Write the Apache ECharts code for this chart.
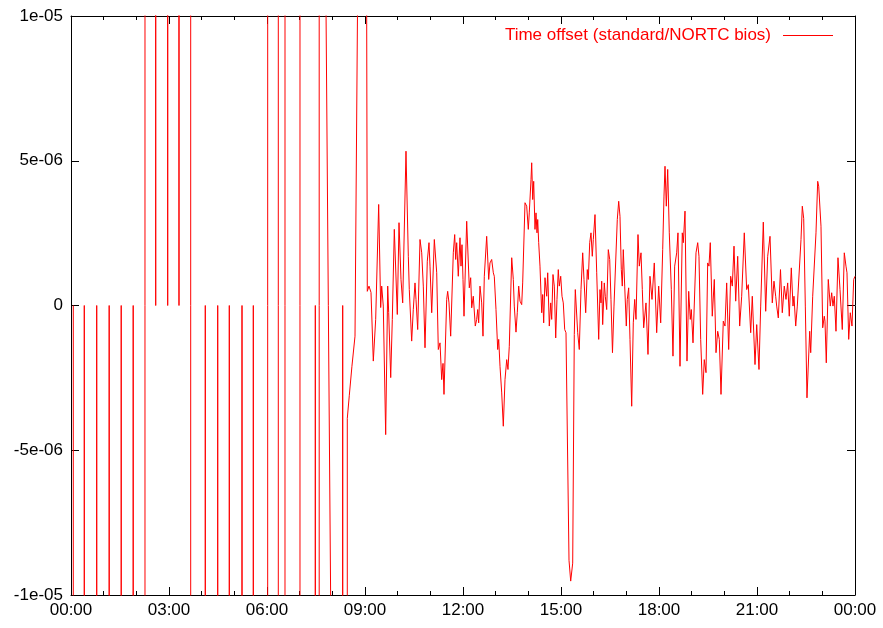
<!DOCTYPE html>
<html>
<head>
<meta charset="utf-8">
<title>Time offset</title>
<script src="https://cdn.jsdelivr.net/npm/echarts@6/dist/echarts.min.js"></script>
<style>
  html, body { margin: 0; padding: 0; background: #fff; }
  #chart { width: 883px; height: 628px; }
</style>
</head>
<body>
<div id="chart"></div>
<script>
// hours since 00:00, offsets in microseconds (+-1000 = far off the plotted range)
var earlyHours = [
  0.070, 0.080,
  0.397, 0.407, 0.417,
  0.777, 0.787, 0.797,
  1.159, 1.169, 1.179,
  1.527, 1.537, 1.547,
  1.894, 1.904, 1.914,
  2.260, 2.270,
  2.583, 2.593, 2.603,
  2.950, 2.960, 2.970,
  3.296, 3.306, 3.316,
  3.659, 3.669,
  4.101, 4.111, 4.121,
  4.481, 4.491, 4.501,
  4.836, 4.846, 4.856,
  5.225, 5.235, 5.245,
  5.571, 5.581, 5.591,
  6.016, 6.026,
  6.341, 6.351,
  6.546, 6.556,
  7.005, 7.015,
  7.469, 7.479, 7.489,
  7.593, 7.603,
  7.806, 7.950, 7.960,
  8.307, 8.317, 8.327,
  8.448, 8.458, 8.520, 8.600, 8.694, 8.786, 9.046
];
var earlyOffset = [
  0, -1000,
  -1000, 0, -1000,
  -1000, 0, -1000,
  -1000, 0, -1000,
  -1000, 0, -1000,
  -1000, 0, -1000,
  -1000, 1000,
  1000, 0, 1000,
  1000, 0, 1000,
  1000, 0, 1000,
  1000, -1000,
  -1000, 0, -1000,
  -1000, 0, -1000,
  -1000, 0, -1000,
  -1000, 0, -1000,
  -1000, 0, -1000,
  -1000, 1000,
  1000, -1000,
  -1000, 1000,
  1000, -1000,
  -1000, 0, -1000,
  -1000, 1000,
  10.3, -10.3, -1000,
  -1000, 0, -1000,
  -1000, -3.9, -3.1, -2.1, -1.06, 12.5, 13
];

var laterHours = [
  9.070, 9.122, 9.184, 9.254, 9.327, 9.419, 9.480, 9.511, 9.560, 9.633,
  9.695, 9.725, 9.787, 9.836, 9.897, 9.989, 10.041, 10.102, 10.154, 10.255,
  10.326, 10.356, 10.429, 10.478, 10.531, 10.561, 10.613, 10.684, 10.736, 10.785,
  10.837, 10.907, 10.959, 10.990, 11.042, 11.122, 11.195, 11.244, 11.296, 11.348,
  11.388, 11.418, 11.501, 11.531, 11.571, 11.623, 11.703, 11.746, 11.776, 11.807,
  11.856, 11.908, 11.939, 11.969, 12.000, 12.031, 12.113, 12.193, 12.235, 12.266,
  12.315, 12.376, 12.419, 12.450, 12.480, 12.520, 12.572, 12.612, 12.652, 12.725,
  12.787, 12.826, 12.878, 12.928, 12.958, 13.010, 13.062, 13.093, 13.133, 13.185,
  13.234, 13.286, 13.338, 13.377, 13.417, 13.491, 13.540, 13.570, 13.622, 13.662,
  13.705, 13.745, 13.797, 13.827, 13.898, 13.950, 13.999, 14.029, 14.082, 14.103,
  14.134, 14.164, 14.204, 14.235, 14.265, 14.287, 14.317, 14.357, 14.409, 14.440,
  14.470, 14.510, 14.562, 14.593, 14.642, 14.685, 14.715, 14.755, 14.795, 14.838,
  14.877, 14.917, 14.948, 14.991, 15.031, 15.070, 15.113, 15.153, 15.245, 15.297,
  15.358, 15.407, 15.438, 15.459, 15.511, 15.560, 15.612, 15.664, 15.704, 15.756,
  15.805, 15.836, 15.879, 15.918, 15.958, 15.989, 16.041, 16.093, 16.154, 16.194,
  16.224, 16.246, 16.276, 16.325, 16.356, 16.399, 16.448, 16.491, 16.530, 16.576,
  16.622, 16.723, 16.766, 16.806, 16.846, 16.876, 16.907, 16.950, 16.999, 17.029,
  17.072, 17.112, 17.164, 17.213, 17.256, 17.296, 17.357, 17.397, 17.449, 17.489,
  17.531, 17.602, 17.663, 17.724, 17.786, 17.856, 17.929, 17.990, 18.052, 18.113,
  18.153, 18.184, 18.224, 18.266, 18.315, 18.377, 18.428, 18.480, 18.541, 18.581,
  18.643, 18.713, 18.744, 18.796, 18.857, 18.909, 18.958, 18.989, 19.041, 19.133,
  19.185, 19.224, 19.276, 19.337, 19.386, 19.439, 19.490, 19.530, 19.570, 19.631,
  19.693, 19.745, 19.797, 19.846, 19.898, 19.968, 20.020, 20.072, 20.133, 20.194,
  20.244, 20.296, 20.348, 20.409, 20.470, 20.531, 20.611, 20.684, 20.734, 20.807,
  20.856, 20.939, 20.991, 21.061, 21.113, 21.193, 21.266, 21.327, 21.398, 21.468,
  21.520, 21.572, 21.603, 21.652, 21.719, 21.774, 21.835, 21.888, 21.939, 21.988,
  22.050, 22.102, 22.132, 22.185, 22.234, 22.286, 22.347, 22.387, 22.430, 22.479,
  22.530, 22.613, 22.644, 22.705, 22.754, 22.806, 22.858, 22.889, 22.919, 22.959,
  23.011, 23.060, 23.081, 23.121, 23.182, 23.244, 23.286, 23.326, 23.366, 23.418,
  23.479, 23.541, 23.562, 23.611, 23.672, 23.724, 23.755, 23.807, 23.856, 23.908,
  23.960, 24.000
];
var laterOffset = [
  0.49, 0.67, 0.45, -1.92, -0.48, 3.49, -0.07, 0.67, -0.02, -4.46,
  0.67, -0.24, -2.49, -0.48, 2.63, -0.31, 2.86, 0.90, 0.09, 5.33,
  1.70, 0.55, -1.23, -0.14, 0.78, 0.21, -0.83, 2.28, 1.82, 0.67,
  -1.46, 1.53, 2.17, 1.36, -0.25, 2.28, 1.13, -1.52, -1.29, -2.56,
  -2.00, -3.07, 0.21, 0.49, 0.09, -1.06, 1.82, 2.45, 1.59, 2.17,
  1.01, 2.34, 1.36, 2.10, 0.90, -0.37, 2.91, 0.61, 0.96, -0.08,
  0.32, -0.71, -0.48, -0.14, -0.60, 0.67, 0.09, -1.06, 1.01, 2.39,
  0.90, 1.47, 1.59, 1.13, 1.01, -0.14, -1.52, -1.17, -2.10, -3.02,
  -4.17, -2.56, -1.87, -2.21, -1.41, 1.65, 0.90, -0.02, -0.92, -0.25,
  0.67, 0.15, 0.03, 0.78, 3.55, 3.43, 2.63, 3.20, 4.35, 4.93,
  3.66, 4.29, 2.63, 3.20, 2.51, 2.97, 2.17, 1.36, -0.25, 0.38,
  -0.60, 0.96, 0.32, 1.13, -0.71, 0.09, -0.48, 1.07, 0.67, -1.12,
  0.21, 1.24, 0.67, 1.01, 0.32, 0.09, -0.83, -0.94, -8.80, -9.52,
  -8.90, -1.00, 0.55, 0.61, -0.94, -1.52, 0.55, 1.82, 0.90, -0.25,
  1.24, 0.90, 2.17, 2.51, 1.70, 2.28, 3.14, 1.13, -1.17, 0.55,
  0.09, 0.84, -0.66, 0.78, 0.32, -0.14, 1.93, 1.59, 0.21, -1.63,
  -0.02, 2.97, 3.60, 3.08, 1.24, 0.67, 1.93, 0.67, -0.71, 0.21,
  0.61, -1.17, -3.48, -0.60, 0.21, -0.48, 2.45, 1.36, 1.82, 0.55,
  -0.77, 0.09, -1.69, 1.01, 0.21, 1.47, -0.94, 0.67, -0.60, 1.93,
  3.78, 4.81, 3.43, 4.70, 2.51, 0.55, -1.75, 1.36, 1.82, 2.51,
  -2.10, 2.51, 2.17, 3.26, -1.92, 0.49, -0.48, -0.14, -1.29, 1.82,
  2.17, 1.70, -1.17, -3.07, -1.87, -2.32, 1.47, 1.36, 2.17, -0.37,
  0.90, -1.63, -0.89, -1.17, -3.07, -0.54, -0.71, 0.78, -1.52, 1.01,
  0.67, 2.05, 0.15, 1.70, -0.71, 0.32, 2.51, 0.55, 0.72, -0.94,
  0.32, -2.04, -0.66, -2.21, -0.02, 2.88, -0.20, 1.70, 2.39, 0.09,
  0.84, 0.32, -0.02, -0.43, 1.24, -0.25, 0.67, 0.21, 0.78, -0.37,
  1.30, -0.02, 0.32, -0.71, -0.02, -0.02, 2.28, 3.43, 3.00, -0.02,
  -3.19, -0.89, -1.63, 0.32, 0.32, 2.51, 4.29, 4.12, 4.18, 2.74,
  -0.77, -0.37, -0.54, -1.98, 0.90, -0.02, 0.44, -0.02, 0.32, -0.89,
  1.65, 0.55, 0.49, -0.83, 1.82, 1.36, 1.13, -1.17, -0.25, -0.71,
  0.90, 1.01
];

var seriesName = 'Time offset (standard/NORTC bios)';
var xTickHours = 3;
var yTickMicro = 5;

var points = [];
earlyHours.forEach(function (h, i) { points.push([h, earlyOffset[i]]); });
laterHours.forEach(function (h, i) { points.push([h, laterOffset[i]]); });

function pad2(n) { return (n < 10 ? '0' : '') + n; }
function hourLabel(v) { return pad2(Math.round(v) % 24) + ':00'; }
function secLabel(v) {
  // axis in microseconds, label in seconds like gnuplot %g
  if (v === 0) return '0';
  var a = Math.abs(v);
  var e = Math.floor(Math.log10(a) + 1e-9);
  var m = Math.round(a / Math.pow(10, e));
  var ex = 6 - e;
  return (v < 0 ? '-' : '') + m + 'e-' + pad2(ex);
}

var font = 'Liberation Sans, Arial, Helvetica, sans-serif';
var axisLine = { show: true, onZero: false, lineStyle: { color: '#000', width: 1 } };

function xAxisDef(pos, labels) {
  return {
    type: 'value', position: pos, min: 0, max: 24, interval: xTickHours,
    axisLine: axisLine,
    axisTick: { show: true, inside: true, length: 8, lineStyle: { color: '#000' } },
    minorTick: { show: true, splitNumber: 3, length: 4, lineStyle: { color: '#000' } },
    splitLine: { show: false },
    axisLabel: { show: labels, formatter: hourLabel, color: '#000', fontSize: 17, fontFamily: font, margin: 7 }
  };
}
function yAxisDef(pos, labels) {
  return {
    type: 'value', position: pos, min: -10, max: 10, interval: yTickMicro,
    axisLine: axisLine,
    axisTick: { show: true, inside: true, length: 8, lineStyle: { color: '#000' } },
    splitLine: { show: false },
    axisLabel: { show: labels, formatter: secLabel, color: '#000', fontSize: 17, fontFamily: font, margin: 8 }
  };
}

var chart = echarts.init(document.getElementById('chart'), null, { renderer: 'canvas' });
chart.setOption({
  animation: false,
  backgroundColor: '#fff',
  grid: { left: 71, right: 28, top: 16, bottom: 33, containLabel: false },
  legend: {
    data: [seriesName],
    right: 50, top: 27,
    padding: 0,
    align: 'right',
    icon: 'rect',
    itemWidth: 50, itemHeight: 1,
    itemStyle: { color: '#ff0000', borderWidth: 0 },
    textStyle: { color: '#ff0000', fontSize: 17, fontFamily: font, padding: [0, 7, 0, 0] }
  },
  xAxis: [xAxisDef('bottom', true), xAxisDef('top', false)],
  yAxis: [yAxisDef('left', true), yAxisDef('right', false)],
  series: [{
    name: seriesName,
    type: 'line',
    xAxisIndex: 0, yAxisIndex: 0,
    symbol: 'none',
    clip: true,
    lineStyle: { color: '#ff0000', width: 1 },
    itemStyle: { color: '#ff0000' },
    data: points
  }]
});
</script>
</body>
</html>
